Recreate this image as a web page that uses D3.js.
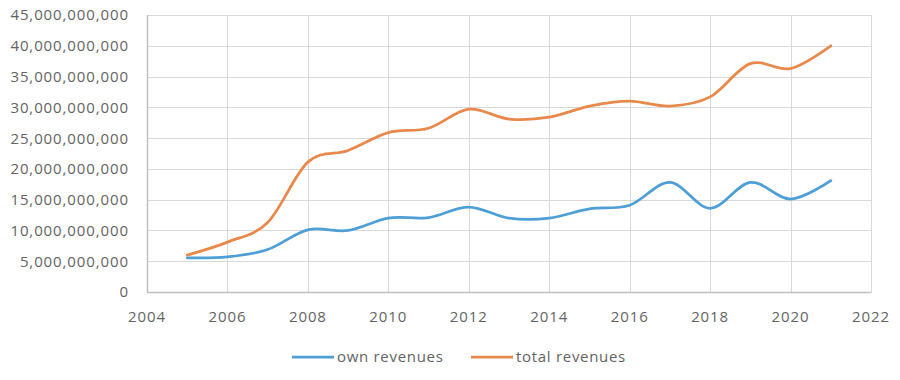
<!DOCTYPE html>
<html>
<head>
<meta charset="utf-8">
<script src="https://cdn.jsdelivr.net/npm/d3@7"></script>
<style>
  html, body { margin: 0; padding: 0; background: #fff; }
  svg text { font-family: "Open Sans", sans-serif; fill: #636363; }
</style>
</head>
<body>
<svg id="chart" width="900" height="380"></svg>
<script>
const years = [2005, 2006, 2007, 2008, 2009, 2010, 2011, 2012, 2013, 2014, 2015, 2016, 2017, 2018, 2019, 2020, 2021];
const ownRevenues = [5.55e9, 5.7e9, 6.9e9, 10.1e9, 10.0e9, 12.0e9, 12.1e9, 13.8e9, 12.0e9, 12.0e9, 13.5e9, 14.1e9, 17.8e9, 13.6e9, 17.8e9, 15.1e9, 18.1e9];
const totalRevenues = [6.0e9, 8.1e9, 11.3e9, 21.1e9, 23.0e9, 25.9e9, 26.6e9, 29.7e9, 28.1e9, 28.4e9, 30.2e9, 31.0e9, 30.2e9, 31.7e9, 37.1e9, 36.3e9, 40.0e9];
const seriesNames = ["own revenues", "total revenues"];
const seriesColors = ["#4E9FD5", "#E8894B"];
const xTicks = [2004, 2006, 2008, 2010, 2012, 2014, 2016, 2018, 2020, 2022];
const yTicks = [0, 5e9, 10e9, 15e9, 20e9, 25e9, 30e9, 35e9, 40e9, 45e9];

const svg = d3.select("#chart");
const m = { left: 147, right: 871, top: 15, bottom: 292 };

const x = d3.scaleLinear().domain([2004, 2022]).range([m.left, m.right]);
const y = d3.scaleLinear().domain([0, 45e9]).range([m.bottom, m.top]);

// gridlines
const grid = svg.append("g");
grid.selectAll("line.h").data(yTicks).join("line")
  .attr("x1", m.left).attr("x2", m.right)
  .attr("y1", d => Math.round(y(d)) + 0.5).attr("y2", d => Math.round(y(d)) + 0.5)
  .attr("stroke", "#D9D9D9").attr("stroke-width", 1);
grid.selectAll("line.v").data(xTicks).join("line")
  .attr("y1", m.top).attr("y2", m.bottom)
  .attr("x1", d => Math.round(x(d)) + 0.5).attr("x2", d => Math.round(x(d)) + 0.5)
  .attr("stroke", "#D9D9D9").attr("stroke-width", 1);

// axis lines
svg.append("line").attr("x1", m.left + 0.5).attr("x2", m.left + 0.5)
  .attr("y1", m.top).attr("y2", m.bottom + 0.5).attr("stroke", "#BFBFBF").attr("stroke-width", 1.5);
svg.append("line").attr("x1", m.left).attr("x2", m.right + 0.5)
  .attr("y1", m.bottom + 0.5).attr("y2", m.bottom + 0.5).attr("stroke", "#BFBFBF").attr("stroke-width", 1.5);

// y tick labels
const fmt = d3.format(",");
svg.append("g").selectAll("text").data(yTicks).join("text")
  .attr("x", 129).attr("y", d => y(d)).attr("dy", "0.36em")
  .attr("text-anchor", "end")
  .style("font-size", "15px").style("letter-spacing", "0.9px")
  .text(d => fmt(d));

// x tick labels
svg.append("g").selectAll("text").data(xTicks).join("text")
  .attr("x", d => x(d)).attr("y", 322)
  .attr("text-anchor", "middle")
  .style("font-size", "15px").style("letter-spacing", "0.9px")
  .text(d => d);

// lines
const line = d3.line()
  .x(d => x(d[0])).y(d => y(d[1]))
  .curve(d3.curveCardinal.tension(0));
const series = [ownRevenues, totalRevenues];
svg.append("g").selectAll("path").data(series).join("path")
  .attr("d", vals => line(years.map((yr, i) => [yr, vals[i]])))
  .attr("fill", "none")
  .attr("stroke", (d, i) => seriesColors[i])
  .attr("stroke-width", 2.75)
  .attr("stroke-linecap", "round")
  .attr("stroke-linejoin", "round");

// legend
const legend = svg.append("g");
const legX = [292, 471];
seriesNames.forEach((name, i) => {
  legend.append("line")
    .attr("x1", legX[i]).attr("x2", legX[i] + 42)
    .attr("y1", 357).attr("y2", 357)
    .attr("stroke", seriesColors[i]).attr("stroke-width", 2.75);
  legend.append("text")
    .attr("x", legX[i] + 45).attr("y", 362)
    .style("font-size", "15px").style("letter-spacing", "0.7px")
    .text(name);
});
</script>
</body>
</html>
